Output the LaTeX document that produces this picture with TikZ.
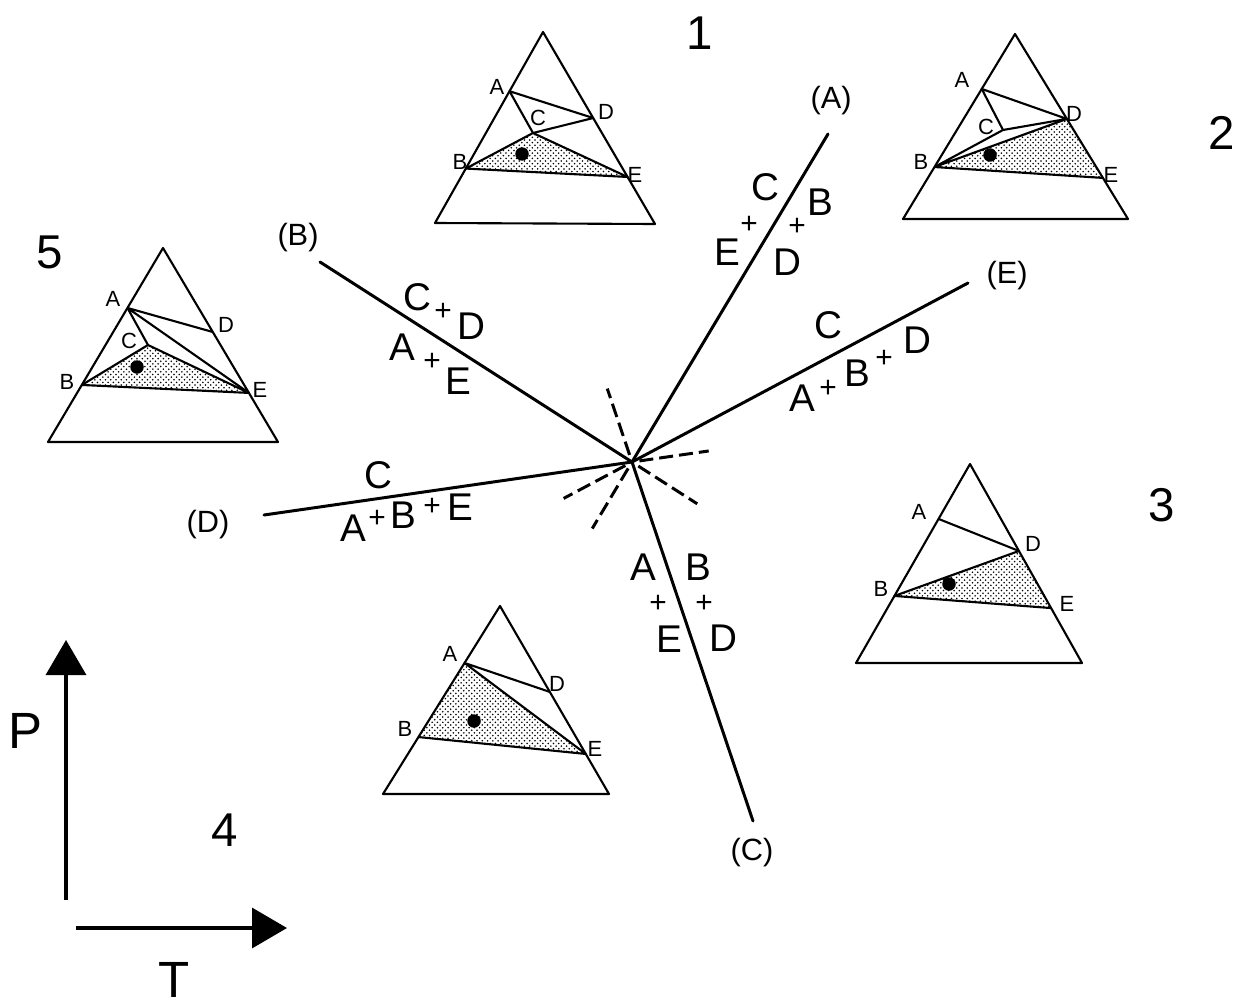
\documentclass[tikz,border=0pt]{standalone}
\usepackage{fontspec}
\setmainfont{Liberation Sans}
\usepackage{tikz}
\usetikzlibrary{
    calc,
    arrows.meta,
    patterns
}

\begin{document}
\begin{tikzpicture}[
    x=0.02cm, y=-0.02cm,
    % Triangle outlines and tie lines
    tri/.style={
        line width=1.2pt,
        line join=round
    },
    % Shaded three-phase field
    stipple/.style={
        pattern=crosshatch dots,
        pattern color=black
    },
    % Bulk composition
    bulkdot/.style={
        circle,
        fill=black,
        inner sep=0pt,
        minimum size=0.27cm
    },
    % Reaction lines
    reaction/.style={
        line width=1.7pt,
        line cap=round
    },
    metastable/.style={
        line width=1.7pt,
        dash pattern=on 0.28cm off 0.12cm
    },
    % Texts
    ptlabel/.style={font=\fontsize{12.5}{13}\selectfont, inner sep=0pt},
    phase/.style={font=\fontsize{22}{24}\selectfont, inner sep=0pt},
    plussign/.style={font=\fontsize{17}{18}\selectfont, inner sep=0pt},
    endlabel/.style={font=\fontsize{17.5}{19}\selectfont, inner sep=0pt},
    fieldnum/.style={font=\fontsize{27}{29}\selectfont, inner sep=0pt},
    % P-T axes
    axisarrow/.style={
        line width=2pt,
        -{Triangle[length=0.7cm, width=0.8cm]}
    },
    axislabel/.style={font=\fontsize{29}{31}\selectfont, inner sep=0pt}
]

\useasboundingbox (0,0) rectangle (1250,1007);

% ============================================
% TRIANGLE 1
% ============================================

\coordinate (t1top) at (543,32);
\coordinate (t1bl) at (435,223);
\coordinate (t1br) at (655,224);
\coordinate (t1A) at ($(t1top)!0.31!(t1bl)$);
\coordinate (t1B) at ($(t1top)!0.715!(t1bl)$);
\coordinate (t1D) at ($(t1top)!0.448!(t1br)$);
\coordinate (t1E) at ($(t1top)!0.755!(t1br)$);
\coordinate (t1C) at (533,133);

\fill[stipple] (t1B) -- (t1C) -- (t1E) -- cycle;
\draw[tri] (t1top) -- (t1bl) -- (t1br) -- cycle;
\draw[tri] (t1A) -- (t1D) -- (t1C) -- cycle;
\draw[tri] (t1B) -- (t1C) -- (t1E) -- cycle;
\node[bulkdot] (t1bulk) at (522,154) {};

\node[ptlabel] (t1lA) at (497,87) {A};
\node[ptlabel] (t1lC) at (538,118) {C};
\node[ptlabel] (t1lD) at (606,112) {D};
\node[ptlabel] (t1lB) at (460,162) {B};
\node[ptlabel] (t1lE) at (635,175) {E};

\node[fieldnum] (num1) at (700,33) {1};

% ============================================
% TRIANGLE 2
% ============================================

\coordinate (t2top) at (1015,34);
\coordinate (t2bl) at (903,219);
\coordinate (t2br) at (1128,219);
\coordinate (t2A) at ($(t2top)!0.297!(t2bl)$);
\coordinate (t2B) at ($(t2top)!0.719!(t2bl)$);
\coordinate (t2D) at ($(t2top)!0.459!(t2br)$);
\coordinate (t2E) at ($(t2top)!0.778!(t2br)$);
\coordinate (t2C) at (1003,130);

\fill[stipple] (t2B) -- (t2D) -- (t2E) -- cycle;
\draw[tri] (t2top) -- (t2bl) -- (t2br) -- cycle;
\draw[tri] (t2A) -- (t2D) -- (t2C) -- cycle;
\draw[tri] (t2B) -- (t2C) (t2B) -- (t2D) (t2B) -- (t2E);
\node[bulkdot] (t2bulk) at (990,155) {};

\node[ptlabel] (t2lA) at (962,80) {A};
\node[ptlabel] (t2lC) at (986,127) {C};
\node[ptlabel] (t2lD) at (1074,114) {D};
\node[ptlabel] (t2lB) at (921,162) {B};
\node[ptlabel] (t2lE) at (1111,175) {E};

\node[fieldnum] (num2) at (1222,133) {2};

% ============================================
% TRIANGLE 3
% ============================================

\coordinate (t3top) at (970,464);
\coordinate (t3bl) at (856,663);
\coordinate (t3br) at (1082,663);
\coordinate (t3A) at ($(t3top)!0.276!(t3bl)$);
\coordinate (t3B) at ($(t3top)!0.663!(t3bl)$);
\coordinate (t3D) at ($(t3top)!0.437!(t3br)$);
\coordinate (t3E) at ($(t3top)!0.724!(t3br)$);

\fill[stipple] (t3B) -- (t3D) -- (t3E) -- cycle;
\draw[tri] (t3top) -- (t3bl) -- (t3br) -- cycle;
\draw[tri] (t3A) -- (t3D) -- (t3B) -- (t3E);
\node[bulkdot] (t3bulk) at (949,584) {};

\node[ptlabel] (t3lA) at (919,512) {A};
\node[ptlabel] (t3lD) at (1033,544) {D};
\node[ptlabel] (t3lB) at (881,589) {B};
\node[ptlabel] (t3lE) at (1067,604) {E};

\node[fieldnum] (num3) at (1162,505) {3};

% ============================================
% TRIANGLE 4
% ============================================

\coordinate (t4top) at (500,606);
\coordinate (t4bl) at (383,794);
\coordinate (t4br) at (609,794);
\coordinate (t4A) at ($(t4top)!0.303!(t4bl)$);
\coordinate (t4B) at ($(t4top)!0.697!(t4bl)$);
\coordinate (t4D) at ($(t4top)!0.457!(t4br)$);
\coordinate (t4E) at ($(t4top)!0.787!(t4br)$);

\fill[stipple] (t4A) -- (t4B) -- (t4E) -- cycle;
\draw[tri] (t4top) -- (t4bl) -- (t4br) -- cycle;
\draw[tri] (t4D) -- (t4A) -- (t4E) -- (t4B);
\node[bulkdot] (t4bulk) at (474,721) {};

\node[ptlabel] (t4lA) at (450,654) {A};
\node[ptlabel] (t4lD) at (557,684) {D};
\node[ptlabel] (t4lB) at (405,729) {B};
\node[ptlabel] (t4lE) at (595,749) {E};

\node[fieldnum] (num4) at (225,830) {4};

% ============================================
% TRIANGLE 5
% ============================================

\coordinate (t5top) at (163,248);
\coordinate (t5bl) at (48,442);
\coordinate (t5br) at (278,442);
\coordinate (t5A) at ($(t5top)!0.309!(t5bl)$);
\coordinate (t5B) at ($(t5top)!0.706!(t5bl)$);
\coordinate (t5D) at ($(t5top)!0.433!(t5br)$);
\coordinate (t5E) at ($(t5top)!0.747!(t5br)$);
\coordinate (t5C) at (148,345);

\fill[stipple] (t5B) -- (t5C) -- (t5E) -- cycle;
\draw[tri] (t5top) -- (t5bl) -- (t5br) -- cycle;
\draw[tri] (t5A) -- (t5D) (t5A) -- (t5C) (t5A) -- (t5E);
\draw[tri] (t5B) -- (t5C) -- (t5E) -- cycle;
\node[bulkdot] (t5bulk) at (137,367) {};

\node[ptlabel] (t5lA) at (113,299) {A};
\node[ptlabel] (t5lD) at (226,325) {D};
\node[ptlabel] (t5lC) at (129,341) {C};
\node[ptlabel] (t5lB) at (67,382) {B};
\node[ptlabel] (t5lE) at (260,390) {E};

\node[fieldnum] (num5) at (50,252) {5};

% ============================================
% REACTIONS ROUND THE INVARIANT POINT
% ============================================

\coordinate (inv) at (632,462);
\coordinate (endA) at (828,134);
\coordinate (endB) at (320,262);
\coordinate (endC) at (753,821);
\coordinate (endD) at (264,515);
\coordinate (endE) at (968,283);

\foreach \e in {endA, endB, endC, endD, endE} {
    \draw[reaction] (inv) -- (\e);
    \draw[metastable] ($(inv)!-0.15cm!(\e)$) -- ($(inv)!-1.55cm!(\e)$);
}

\node[endlabel] (labA) at (831,101) {(A)};
\node[endlabel] (labB) at (298,238) {(B)};
\node[endlabel] (labC) at (752,853) {(C)};
\node[endlabel] (labD) at (208,525) {(D)};
\node[endlabel] (labE) at (1007,276) {(E)};

% (A): E + C = D + B
\node[phase] (aC) at (765,187) {C};
\node[plussign] (aplus1) at (749,225) {+};
\node[phase] (aE) at (727,252) {E};
\node[phase] (aB) at (820,202) {B};
\node[plussign] (aplus2) at (797,227) {+};
\node[phase] (aD) at (787,262) {D};

% (B): C + D = A + E
\node[phase] (bC) at (417,297) {C};
\node[plussign] (bplus1) at (443,312) {+};
\node[phase] (bD) at (471,326) {D};
\node[phase] (bA) at (402,347) {A};
\node[plussign] (bplus2) at (432,362) {+};
\node[phase] (bE) at (458,381) {E};

% (C): A + E = B + D
\node[phase] (cA) at (643,567) {A};
\node[plussign] (cplus1) at (658,604) {+};
\node[phase] (cE) at (669,639) {E};
\node[phase] (cB) at (698,567) {B};
\node[plussign] (cplus2) at (704,604) {+};
\node[phase] (cD) at (723,638) {D};

% (D): C = A + B + E
\node[phase] (dC) at (378,475) {C};
\node[phase] (dA) at (353,528) {A};
\node[plussign] (dplus1) at (377,519) {+};
\node[phase] (dB) at (403,515) {B};
\node[plussign] (dplus2) at (432,507) {+};
\node[phase] (dE) at (460,507) {E};

% (E): C = A + B + D
\node[phase] (eC) at (828,325) {C};
\node[phase] (eA) at (802,398) {A};
\node[plussign] (eplus1) at (828,389) {+};
\node[phase] (eB) at (857,373) {B};
\node[plussign] (eplus2) at (884,359) {+};
\node[phase] (eD) at (917,340) {D};

% ============================================
% P-T AXES
% ============================================

\coordinate (porig) at (66,900);
\coordinate (ptip) at (66,640);
\coordinate (torig) at (76,928);
\coordinate (ttip) at (287,928);

\draw[axisarrow] (porig) -- (ptip);
\draw[axisarrow] (torig) -- (ttip);

\node[axislabel] (plab) at (25,731) {P};
\node[axislabel] (tlab) at (174,980) {T};

\end{tikzpicture}
\end{document}
